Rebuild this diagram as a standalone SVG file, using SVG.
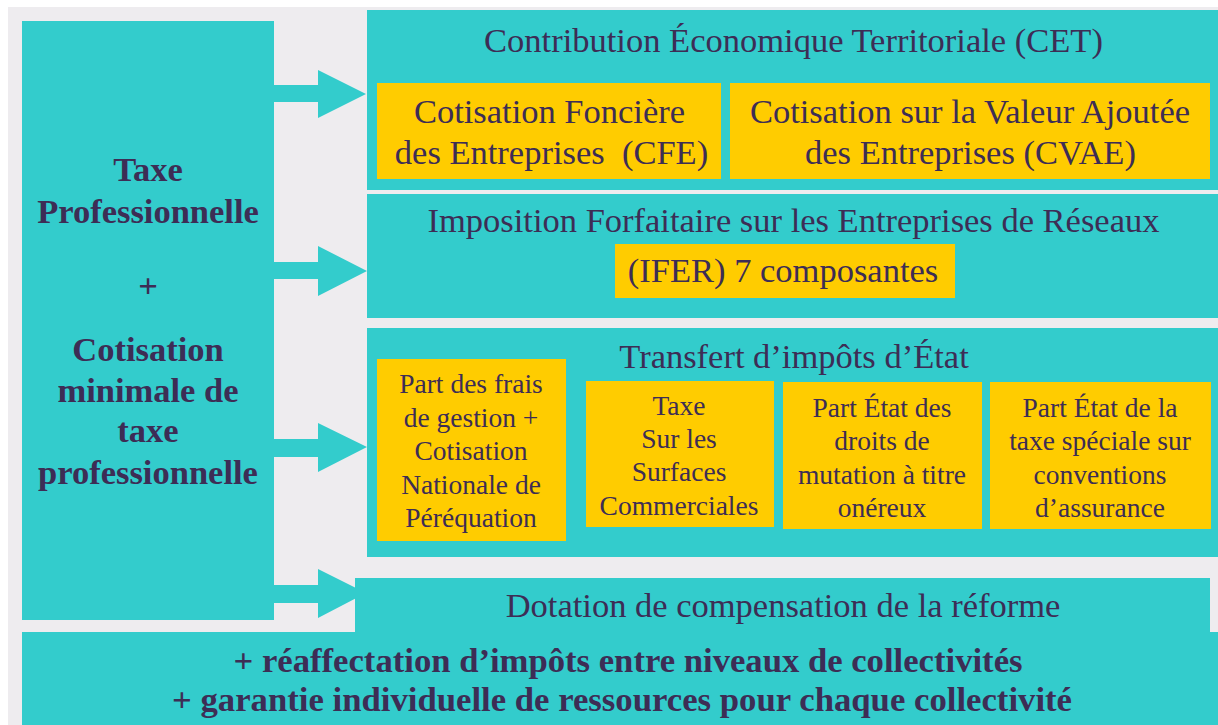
<svg xmlns="http://www.w3.org/2000/svg" width="1218" height="725" viewBox="0 0 1218 725">
<style>
.c{fill:#33CCCC}
.y{fill:#FFCC00}
text{fill:#3D2D55;text-anchor:middle}
.t34{font-size:34.5px}
.t27{font-size:27.5px}
.b{font-weight:bold;font-size:34.5px}
</style>
<rect x="0" y="0" width="1218" height="725" fill="#FFFFFF"/>
<rect x="8" y="7" width="1210" height="718" fill="#EEECEF"/>
<g id="connectors">
<path class="c" d="M274 85H318V70L366 94L318 118V102H274Z"/>
<path class="c" d="M274 262H318V246L367 271L318 296V279H274Z"/>
<path class="c" d="M274 439H318V423L367 447L318 472V457H274Z"/>
<path class="c" d="M274 585H318V569L366 593L318 618V603H274Z"/>
</g>
<g font-family="'Liberation Serif', 'DejaVu Serif', serif">
<g id="tp">
<rect class="c" x="22" y="21" width="252" height="599"/>
<text class="b" x="148" y="181">Taxe</text>
<text class="b" x="148" y="223">Professionnelle</text>
<text class="b" x="148" y="297">+</text>
<text class="b" x="148" y="361">Cotisation</text>
<text class="b" x="148" y="402">minimale de</text>
<text class="b" x="148" y="442">taxe</text>
<text class="b" x="148" y="484">professionnelle</text>
</g>
<g id="cet">
<rect class="c" x="367" y="10" width="851" height="180"/>
<text class="t34" x="793.5" y="52">Contribution Économique Territoriale (CET)</text>
</g>
<g id="cfe">
<rect class="y" x="377" y="83" width="344" height="96"/>
<text class="t34" x="549.5" y="123">Cotisation Foncière</text>
<text class="t34" x="551.5" y="164" xml:space="preserve">des Entreprises  (CFE)</text>
</g>
<g id="cvae">
<rect class="y" x="730" y="83" width="480" height="96"/>
<text class="t34" x="970" y="123">Cotisation sur la Valeur Ajoutée</text>
<text class="t34" x="970.5" y="164">des Entreprises (CVAE)</text>
</g>
<g id="ifer">
<rect class="c" x="367" y="194" width="851" height="124"/>
<text class="t34" x="793.5" y="232">Imposition Forfaitaire sur les Entreprises de Réseaux</text>
<rect class="y" x="615" y="244" width="340" height="54"/>
<text class="t34" x="783" y="282">(IFER) 7 composantes</text>
</g>
<g id="transfert">
<rect class="c" x="367" y="328" width="851" height="229"/>
<text class="t34" x="794" y="368">Transfert d’impôts d’État</text>
</g>
<g id="frais">
<rect class="y" x="377" y="359" width="189" height="182"/>
<text class="t27" x="471" y="393">Part des frais</text>
<text class="t27" x="471" y="427">de gestion +</text>
<text class="t27" x="471" y="460">Cotisation</text>
<text class="t27" x="471" y="494">Nationale de</text>
<text class="t27" x="471" y="527">Péréquation</text>
</g>
<g id="tascom">
<rect class="y" x="586" y="381" width="188" height="146"/>
<text class="t27" x="679" y="415">Taxe</text>
<text class="t27" x="679" y="448">Sur les</text>
<text class="t27" x="679" y="481">Surfaces</text>
<text class="t27" x="679" y="515">Commerciales</text>
</g>
<g id="dmto">
<rect class="y" x="783" y="382" width="199" height="147"/>
<text class="t27" x="882" y="417">Part État des</text>
<text class="t27" x="882" y="450">droits de</text>
<text class="t27" x="882" y="484">mutation à titre</text>
<text class="t27" x="882" y="517">onéreux</text>
</g>
<g id="tsca">
<rect class="y" x="990" y="382" width="221" height="147"/>
<text class="t27" x="1100" y="417">Part État de la</text>
<text class="t27" x="1100" y="450">taxe spéciale sur</text>
<text class="t27" x="1100" y="484">conventions</text>
<text class="t27" x="1100" y="517">d’assurance</text>
</g>
<g id="dotation">
<rect class="c" x="355" y="578" width="855" height="60"/>
<text class="t34" x="783" y="617">Dotation de compensation de la réforme</text>
</g>
<g id="bottom">
<rect class="c" x="22" y="632" width="1196" height="93"/>
<text class="b" x="628" y="672" font-size="32" textLength="789" lengthAdjust="spacingAndGlyphs">+ réaffectation d’impôts entre niveaux de collectivités</text>
<text class="b" x="622" y="711" font-size="32" textLength="900" lengthAdjust="spacingAndGlyphs">+ garantie individuelle de ressources pour chaque collectivité</text>
</g>
</g>
</svg>
